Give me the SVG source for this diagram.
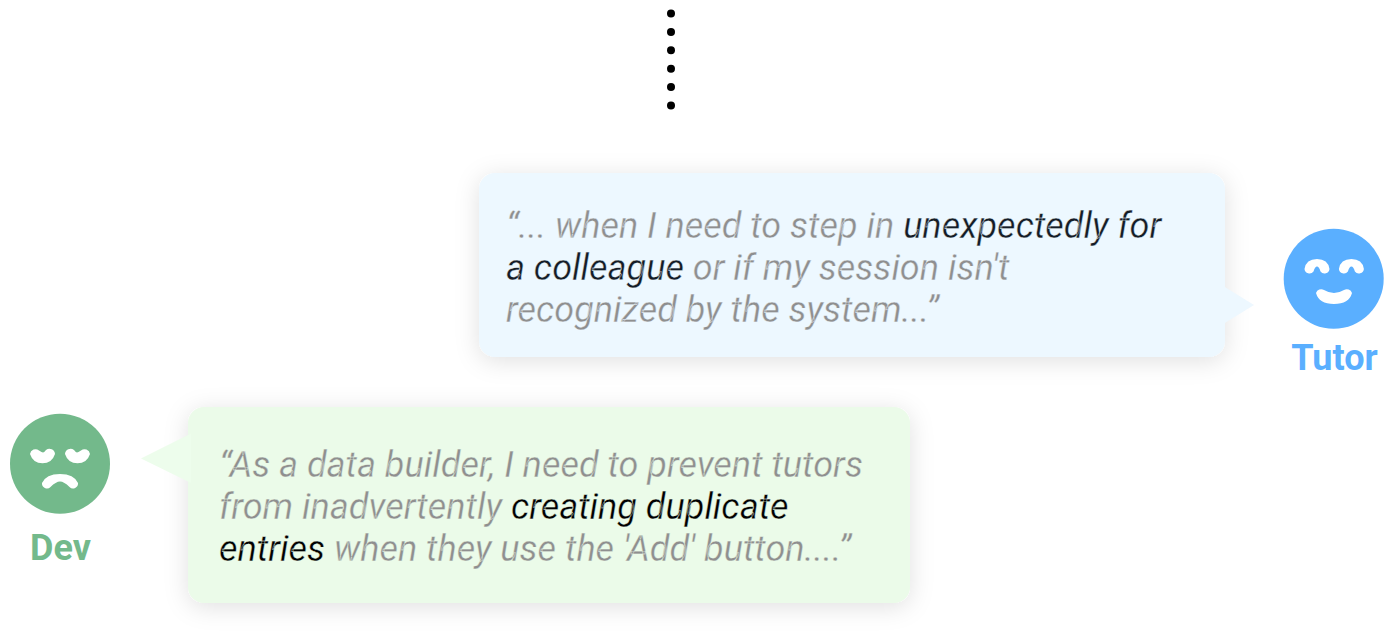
<svg xmlns="http://www.w3.org/2000/svg" width="1394" height="633" viewBox="0 0 1394 633">
<style>
.q{font-family:Roboto,"Liberation Sans",sans-serif;font-style:italic;font-weight:400;font-size:36px;fill:#8f8f8f;stroke-width:.35px}
.bt{stroke:#edf8ff}.bd{stroke:#ebfbe9}
.t{fill:#141c26}.d{fill:#000}
.n{font-family:Roboto,"Liberation Sans",sans-serif;font-weight:700;font-size:36px;text-anchor:middle}
</style>
<defs>
<filter id="sh" x="-15%" y="-30%" width="130%" height="160%"><feDropShadow dx="0" dy="4" stdDeviation="12" flood-color="#000" flood-opacity="0.12"/></filter>
</defs>
<rect width="1394" height="633" fill="#fff"/>
<g id="connectors" fill="#000">
<circle cx="671" cy="13.500" r="4"/><circle cx="671" cy="32" r="4"/><circle cx="671" cy="50.300" r="4"/><circle cx="671" cy="68.700" r="4"/><circle cx="671" cy="87" r="4"/><circle cx="671" cy="105.500" r="4"/>
</g>
<g id="bubble-tutor">
<rect filter="url(#sh)" x="479" y="173" width="746" height="184" rx="16" fill="#edf8ff"/>
<path fill="#edf8ff" d="M1224 286.500L1254 305L1224 323.500Z"/>
<text class="q bt" x="506" y="238">“... when I need to step in <tspan class="t">unexpectedly for</tspan></text>
<text class="q bt" x="506" y="280"><tspan class="t">a colleague</tspan> or if my session isn't</text>
<text class="q bt" x="506" y="322">recognized by the system...”</text>
</g>
<g id="bubble-dev">
<rect filter="url(#sh)" x="188" y="407" width="722" height="196" rx="16" fill="#ebfbe9"/>
<path fill="#edfdec" d="M191 433.500L141 458.500L191 483Z"/>
<text class="q bd" x="219" y="476.500">“As a data builder, I need to prevent tutors</text>
<text class="q bd" x="219" y="518.500">from inadvertently <tspan class="d">creating duplicate</tspan></text>
<text class="q bd" x="219" y="560.500"><tspan class="d">entries</tspan> when they use the 'Add' button....”</text>
</g>
<g id="tutor">
<circle cx="1333.7" cy="278.700" r="50" fill="#5aafff"/>
<path id="tutor-eyes" fill="#fff" d="M1304.500 269Q1306 259 1317 259Q1328 259 1329.500 269A5 5 0 0 1 1320.500 271.500Q1319 266.500 1317 266.500Q1315 266.500 1313.500 271.500A5 5 0 0 1 1304.500 269ZM1338.900 269Q1340.400 259 1351.400 259Q1362.400 259 1363.900 269A5 5 0 0 1 1354.900 271.500Q1353.400 266.500 1351.400 266.500Q1349.400 266.500 1347.900 271.500A5 5 0 0 1 1338.900 269Z"/>
<path fill="#fff" d="M1316 293A5.500 5.500 0 0 1 1324 290Q1334 296 1344 290A5.500 5.500 0 0 1 1352 293Q1349 304 1334 304Q1319 304 1316 293Z"/>
<text class="n" x="1334.500" y="370" fill="#5aafff">Tutor</text>
</g>
<g id="dev">
<circle cx="60" cy="463.700" r="50" fill="#73b98b"/>
<path fill="#fff" d="M30 454A5.500 5.500 0 0 1 39 450.500Q42 452.500 43 452.500Q44 452.500 46 450A5.500 5.500 0 0 1 55 454Q52 463.300 42.500 463.300Q33 463.300 30 454ZM90 454A5.500 5.500 0 0 0 81 450.500Q78 452.500 77 452.500Q76 452.500 74 450A5.500 5.500 0 0 0 65 454Q68 463.300 77.500 463.300Q87 463.300 90 454Z"/>
<path fill="#fff" d="M42 483Q46 474 60 474Q74 474 78 483A5 5 0 0 1 69.500 487Q64 481.500 60 481.500Q56 481.500 50.500 487A5 5 0 0 1 42 483Z"/>
<text class="n" x="60.500" y="560" fill="#73b98b">Dev</text>
</g>
</svg>
